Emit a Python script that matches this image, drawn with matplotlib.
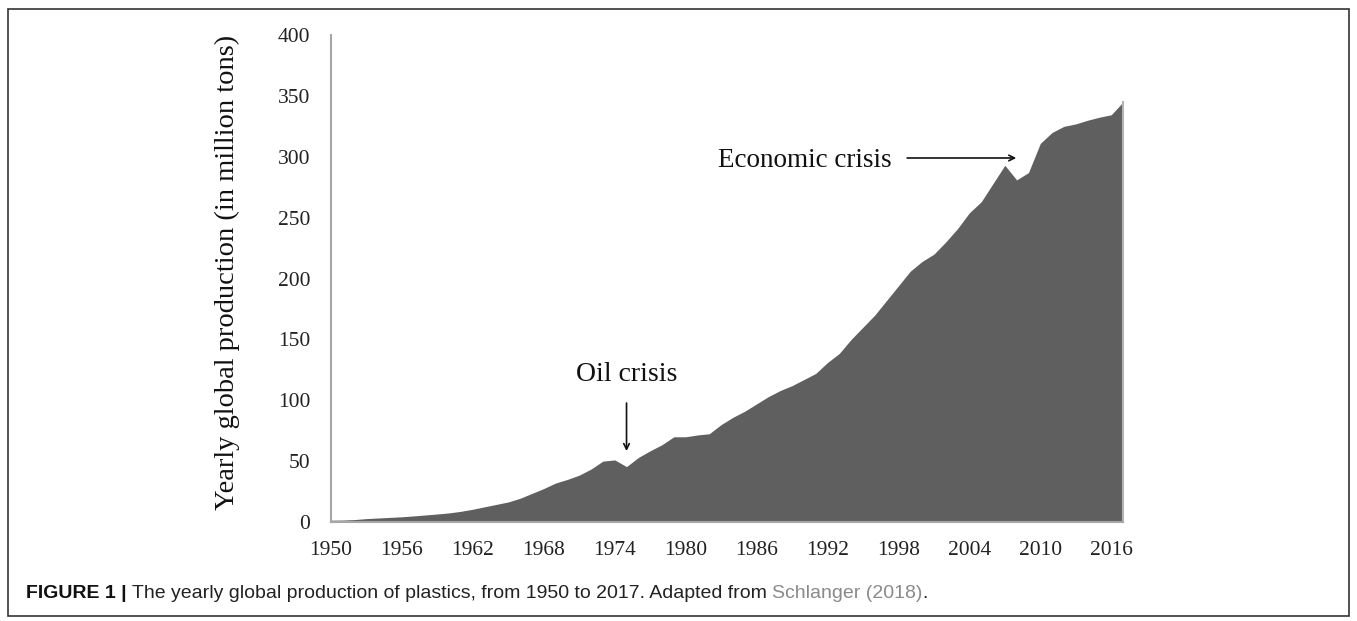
import matplotlib.pyplot as plt
from matplotlib.patches import Rectangle

# yearly global production of plastics (million tons)
years = list(range(1950, 2018))
production = [1.5, 1.6, 2.0, 2.8, 3.3, 3.8, 4.3, 5.0, 5.8, 6.6,
              7.5, 8.8, 10.5, 12.5, 14.5, 16.5, 19.5, 23.5, 27.5, 32.0,
              35.0, 38.5, 43.5, 50.0, 51.0, 45.5, 53.0, 58.5, 63.5, 70.0,
              70.0, 71.5, 72.5, 80.0, 86.0, 91.0, 97.0, 103.0, 108.0, 112.0,
              117.0, 122.0, 131.0, 138.5, 150.0, 160.0, 170.0, 182.0, 194.0, 206.0,
              214.0, 220.0, 230.0, 241.0, 254.0, 263.0, 278.0, 293.0, 281.0, 287.0,
              311.0, 320.0, 325.0, 327.0, 330.0, 332.5, 334.5, 345.0]

x_ticks = years[::6]
y_ticks = list(range(0, 401, 50))

caption_bold = 'FIGURE 1 | '
caption_text = 'The yearly global production of plastics, from 1950 to 2017. Adapted from '
caption_ref = 'Schlanger (2018)'

serif = 'Liberation Serif'
sans = 'Liberation Sans'

fig = plt.figure(figsize=(13.57, 6.21), dpi=100)
ax = fig.add_axes([0.2439, 0.1594, 0.5837, 0.7842])

ax.fill_between(years, production, color='#5f5f5f', linewidth=0)
# light edge on the right end of the area
ax.plot([years[-1], years[-1]], [0, production[-1]], color='#b4b4b4', lw=1.5,
        clip_on=False)

ax.set_xlim(years[0], years[-1])
ax.set_ylim(0, 400)
ax.set_xticks(x_ticks)
ax.set_yticks(y_ticks)
ax.tick_params(length=0, labelsize=15.5, colors='#222222')
ax.tick_params(axis='x', pad=14)
ax.tick_params(axis='y', pad=15)
for lbl in ax.get_xticklabels() + ax.get_yticklabels():
    lbl.set_family(serif)

for side in ['top', 'right']:
    ax.spines[side].set_visible(False)
for side in ['left', 'bottom']:
    ax.spines[side].set_color('#a6a6a6')
    ax.spines[side].set_linewidth(1.5)

ax.set_ylabel('Yearly global production (in million tons)', family=serif,
              fontsize=20.5, color='#111111')
ax.yaxis.set_label_coords(-0.115, 0.513)

# annotations
ax.annotate('', xy=(1975, 56), xytext=(1975, 100),
            arrowprops=dict(arrowstyle='->', color='#111111', lw=1.2))
ax.text(1975, 121, 'Oil crisis', family=serif, fontsize=20,
        ha='center', va='center', color='#111111')

ax.annotate('', xy=(2008.2, 299), xytext=(1998.5, 299),
            arrowprops=dict(arrowstyle='->', color='#111111', lw=1.2))
ax.text(1997.4, 297, 'Economic crisis', family=serif, fontsize=19.5,
        ha='right', va='center', color='#111111')

# caption and frame
cap_y = 0.037
t = fig.text(0.019, cap_y, caption_bold, family=sans, fontsize=14,
             weight='bold', color='#111111', va='baseline')
fig.canvas.draw()
r = fig.canvas.get_renderer()
bb = t.get_window_extent(renderer=r)
t2 = fig.text(bb.x1 / fig.bbox.width, cap_y, caption_text, family=sans,
              fontsize=14, color='#222222', va='baseline')
bb2 = t2.get_window_extent(renderer=r)
t3 = fig.text(bb2.x1 / fig.bbox.width, cap_y, caption_ref, family=sans,
              fontsize=14, color='#8a8a8a', va='baseline')
bb3 = t3.get_window_extent(renderer=r)
fig.text(bb3.x1 / fig.bbox.width, cap_y, '.', family=sans,
         fontsize=14, color='#222222', va='baseline')

fig.patches.append(Rectangle((0.006, 0.008), 0.988, 0.978, transform=fig.transFigure,
                             fill=False, edgecolor='#333333', linewidth=1.2))

fig.savefig('out.png', dpi=100)
